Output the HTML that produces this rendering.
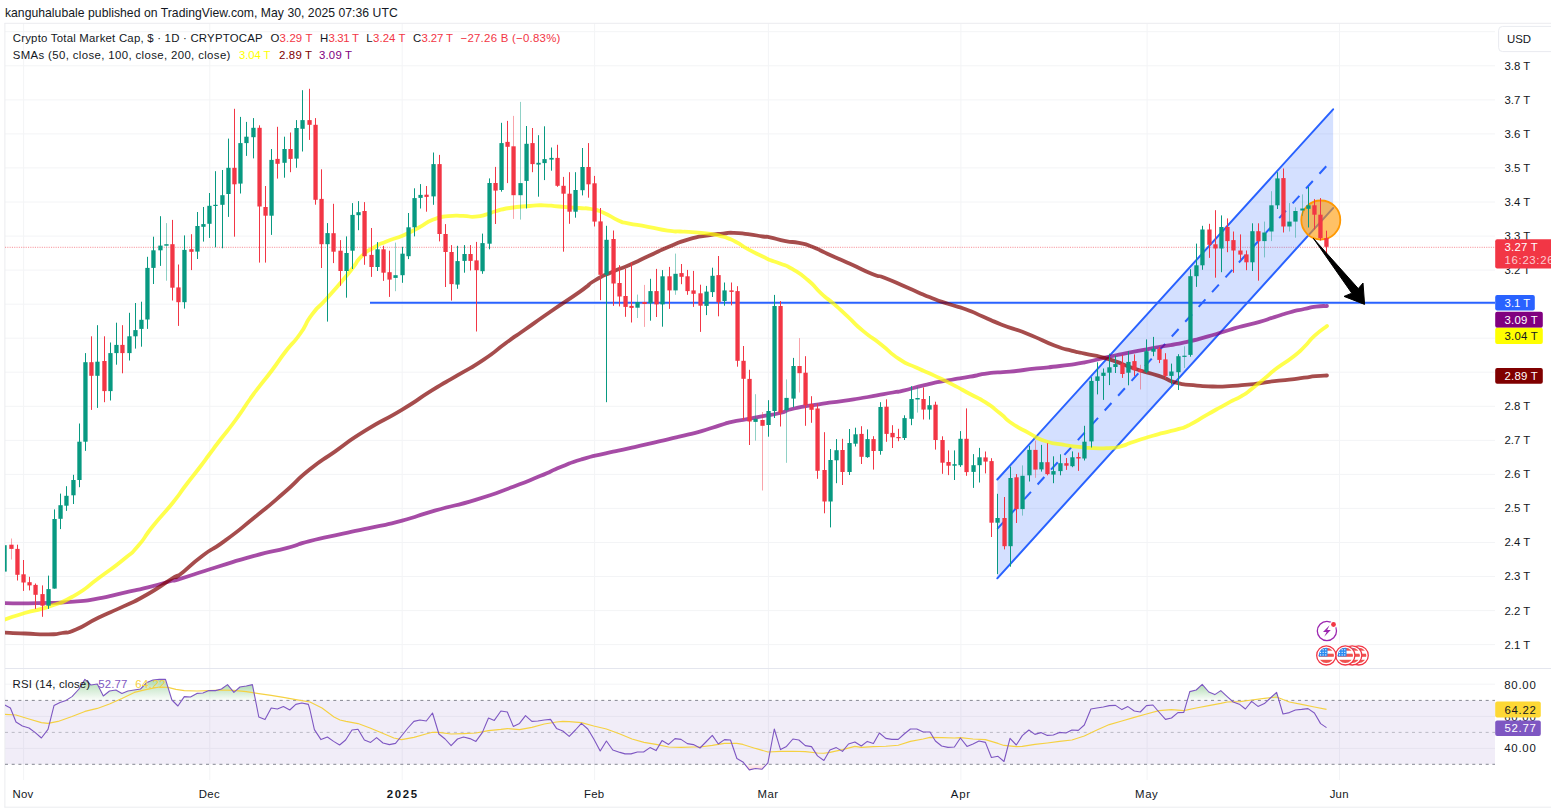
<!DOCTYPE html>
<html lang="en"><head><meta charset="utf-8"><title>Crypto Total Market Cap chart</title>
<style>
html,body{margin:0;padding:0;background:#fff;}
body{width:1551px;height:810px;position:relative;overflow:hidden;font-family:"Liberation Sans",Arial,sans-serif;color:#131722;}
#title{position:absolute;left:5px;top:5px;font-size:12.6px;line-height:15px;white-space:nowrap;letter-spacing:0.12px;}
svg{position:absolute;left:0;top:0;}
svg text{font-family:"Liberation Sans",Arial,sans-serif;}
.lg{position:absolute;left:13px;font-size:12px;line-height:15px;white-space:nowrap;}
.lg span{display:inline-block;}
</style></head><body>
<svg width="1551" height="810" viewBox="0 0 1551 810">
<defs><clipPath id="cp"><rect x="5" y="23.5" width="1490" height="645"/></clipPath>
<clipPath id="cr"><rect x="5" y="668.5" width="1490" height="111.5"/></clipPath>
<linearGradient id="gg" x1="0" y1="0" x2="0" y2="1"><stop offset="0" stop-color="#4caf50" stop-opacity="0.45"/><stop offset="1" stop-color="#4caf50" stop-opacity="0.02"/></linearGradient>
<linearGradient id="rg" x1="0" y1="0" x2="0" y2="1"><stop offset="0" stop-color="#f23645" stop-opacity="0.02"/><stop offset="1" stop-color="#f23645" stop-opacity="0.25"/></linearGradient>
</defs>
<g stroke="#f3f4f6" stroke-width="1" fill="none">
<path d="M5 31.7 H1495"/>
<path d="M5 65.8 H1495"/>
<path d="M5 99.9 H1495"/>
<path d="M5 133.9 H1495"/>
<path d="M5 167.9 H1495"/>
<path d="M5 202 H1495"/>
<path d="M5 236.1 H1495"/>
<path d="M5 270.1 H1495"/>
<path d="M5 304.2 H1495"/>
<path d="M5 338.2 H1495"/>
<path d="M5 372.2 H1495"/>
<path d="M5 406.3 H1495"/>
<path d="M5 440.4 H1495"/>
<path d="M5 474.4 H1495"/>
<path d="M5 508.4 H1495"/>
<path d="M5 542.5 H1495"/>
<path d="M5 576.5 H1495"/>
<path d="M5 610.6 H1495"/>
<path d="M5 644.6 H1495"/>
<path d="M5 684.2 H1495"/>
<path d="M5 716.4 H1495"/>
<path d="M5 748.4 H1495"/>
<path d="M23.6 23.5 V780"/>
<path d="M209.8 23.5 V780"/>
<path d="M402.2 23.5 V780"/>
<path d="M594.6 23.5 V780"/>
<path d="M768.4 23.5 V780"/>
<path d="M960.9 23.5 V780"/>
<path d="M1147.1 23.5 V780"/>
<path d="M1339.5 23.5 V780"/>
</g>
<rect x="5" y="700.4" width="1490" height="63.9" fill="#7e57c2" fill-opacity="0.11"/>
<g stroke="#ebecef" stroke-width="1" fill="none"><path d="M4.5 23.3 H1551"/><path d="M4.9 23 V807.5"/><path d="M4.5 807.2 H1551"/></g>
<path d="M5 668.5 H1551" stroke="#e4e6ee" stroke-width="1"/>
<g clip-path="url(#cp)">
<path d="M5 247.3 H1495" stroke="#f23645" stroke-opacity="0.55" stroke-width="1" stroke-dasharray="1.1 1.2"/>
<path d="M997.3 479.5 L1333.1 109.3 L1333.1 208.1 L997.3 578.3 Z" fill="#2962ff" fill-opacity="0.2"/>
<g stroke="#2962ff" stroke-width="2" fill="none" stroke-linecap="round">
<path d="M997.3 479.5 L1333.1 109.3"/>
<path d="M997.3 578.3 L1333.1 208.1"/>
<path d="M997.3 528.9 L1328 164.3" stroke-dasharray="10.1 9.88" stroke-linecap="butt"/>
</g>
<path d="M370 302.8 H1495" stroke="#2962ff" stroke-width="2"/>
<circle cx="1320.8" cy="220" r="19.5" fill="#ff9800" fill-opacity="0.6" stroke="#ff9800" stroke-width="1.8"/>
<path d="M5 603.2 C15.67 603.2 14 603.7 37 603.2 C60 602.7 53.4 603.33 74 601.7 C94.6 600.07 82.3 601.27 98.8 598.3 C115.3 595.33 107.1 596.43 123.5 592.8 C139.9 589.17 131.57 591.5 148 587.4 C164.43 583.3 162.13 583.33 172.8 580.5 C183.47 577.67 165.27 583.4 180 578.9 C194.73 574.4 192.3 574.67 217 567 C241.7 559.33 230.63 562.3 254.1 555.9 C277.57 549.5 268.9 552.73 287.4 547.8 C305.9 542.87 291.07 545.8 309.6 541.1 C328.13 536.4 322 538.27 343 533.7 C364 529.13 352.87 531.73 372.6 527.4 C392.33 523.07 381.2 526.37 402.2 520.7 C423.2 515.03 410.9 517.43 435.6 510.4 C460.3 503.37 450.4 507.5 476.3 499.6 C502.2 491.7 492.07 494.53 513.3 486.7 C534.53 478.87 524.2 482.63 540 476.1 C555.8 469.57 546.87 472.67 560.7 467.1 C574.53 461.53 566.5 464 581.5 459.4 C596.5 454.8 589.6 457.07 605.7 453.3 C621.8 449.53 613.7 451.67 629.8 448.1 C645.9 444.53 637.87 446.33 654 442.6 C670.13 438.87 662.07 440.83 678.2 436.9 C694.33 432.97 688.57 434.63 702.4 430.8 C716.23 426.97 709.9 428.37 719.7 425.4 C729.5 422.43 722.6 424 731.8 421.9 C741 419.8 736.93 421 747.3 419.1 C757.67 417.2 752 418.23 762.9 416.2 C773.8 414.17 769.6 415.57 780 413 C790.4 410.43 781.17 411.4 794.1 408.5 C807.03 405.6 802.33 406.87 818.8 404.3 C835.27 401.73 827.07 403.23 843.5 400.8 C859.93 398.37 851.67 399.77 868.1 397 C884.53 394.23 881.07 394.6 892.8 392.5 C904.53 390.4 892.37 393.23 903.3 390.7 C914.23 388.17 910.77 388.33 925.6 384.9 C940.43 381.47 933 383.13 947.8 380.4 C962.6 377.67 956.67 379.07 970 376.7 C983.33 374.33 974.47 375 987.8 373.3 C1001.13 371.6 993.7 373.23 1010 371.6 C1026.3 369.97 1020.03 370.27 1036.7 368.4 C1053.37 366.53 1044 368.03 1060 366 C1076 363.97 1068.23 365.4 1084.7 362.3 C1101.17 359.2 1092.93 360.23 1109.4 356.7 C1125.87 353.17 1117.63 354.93 1134.1 351.7 C1150.57 348.47 1142.33 350.03 1158.8 347 C1175.27 343.97 1167.07 346.13 1183.5 342.6 C1199.93 339.07 1192.6 340.7 1208.1 336.4 C1223.6 332.1 1217.77 333.3 1230 329.7 C1242.23 326.1 1234.93 328.2 1244.8 325.6 C1254.67 323 1249.73 324.73 1259.6 321.9 C1269.47 319.07 1264.5 320.23 1274.4 317.1 C1284.3 313.97 1279.4 315.2 1289.3 312.5 C1299.2 309.8 1295.23 310.97 1304.1 309 C1312.97 307.03 1308.27 307.6 1315.9 306.6 C1323.53 305.6 1323.3 306.2 1327 306" fill="none" stroke="#800080" stroke-opacity="0.7" stroke-width="3.8" stroke-linejoin="round" stroke-linecap="round"/>
<path d="M5 632.6 C11.67 632.9 10.53 632.93 25 633.5 C39.47 634.07 36.07 634.47 48.4 634.3 C60.73 634.13 52.8 634.6 62 633 C71.2 631.4 63.73 634.67 76 629.5 C88.27 624.33 82.97 625.2 98.8 617.5 C114.63 609.8 107.1 614.23 123.5 606.4 C139.9 598.57 131.57 603.47 148 594 C164.43 584.53 162.13 584.53 172.8 578 C183.47 571.47 170.2 581.77 180 574.4 C189.8 567.03 187.4 567 202.2 555.9 C217 544.8 207.1 553.8 224.4 541.1 C241.7 528.4 234.33 533.83 254.1 517.8 C273.87 501.77 265.2 509.07 283.7 493 C302.2 476.93 292.3 483.57 309.6 469.6 C326.9 455.63 317.07 464.07 335.6 451.1 C354.13 438.13 343 444.53 365.2 430.7 C387.4 416.87 379.97 423.03 402.2 409.6 C424.43 396.17 413.37 401.87 431.9 390.4 C450.43 378.93 440.53 385.47 457.8 375.2 C475.07 364.93 467.67 370.33 483.7 359.6 C499.73 348.87 492.33 352.87 505.9 343 C519.47 333.13 509.7 340.33 524.4 330 C539.1 319.67 531.47 324.8 550 312 C568.53 299.2 565.07 302.1 580 291.6 C594.93 281.1 584.1 287.07 594.8 280.5 C605.5 273.93 600.57 277.1 612.1 271.9 C623.63 266.7 617.07 270.27 629.4 264.9 C641.73 259.53 635.93 261.87 649.1 255.8 C662.27 249.73 655.73 252.2 668.9 246.7 C682.07 241.2 675.43 243.1 688.6 239.3 C701.77 235.5 696.87 237.2 708.4 235.3 C719.93 233.4 714.97 234.43 723.2 233.6 C731.43 232.77 724.87 232.63 733.1 232.8 C741.33 232.97 738.03 232.87 747.9 234.1 C757.77 235.33 755.33 235.43 762.7 236.5 C770.07 237.57 762.37 235.77 770 237.3 C777.63 238.83 775.97 239.23 785.6 241.1 C795.23 242.97 790.03 241.03 798.9 242.9 C807.77 244.77 802.57 243 812.2 246.7 C821.83 250.4 815.2 248.3 827.8 254 C840.4 259.7 835.2 257.13 850 263.8 C864.8 270.47 860.33 269.2 872.2 274 C884.07 278.8 873.73 273.6 885.6 278.2 C897.47 282.8 893 281.43 907.8 287.8 C922.6 294.17 916.67 291.97 930 297.3 C943.33 302.63 935.93 299.8 947.8 303.8 C959.67 307.8 953.77 305 965.6 309.3 C977.43 313.6 971.47 311.67 983.3 316.7 C995.13 321.73 986.27 318.63 1001.1 324.4 C1015.93 330.17 1010.03 326.97 1027.8 334 C1045.57 341.03 1039.6 339.9 1054.4 345.5 C1069.2 351.1 1062.1 348.07 1072.2 350.8 C1082.3 353.53 1072.3 350.83 1084.7 353.7 C1097.1 356.57 1092.93 354.47 1109.4 359.4 C1125.87 364.33 1117.63 363 1134.1 368.5 C1150.57 374 1144.83 371.2 1158.8 375.9 C1172.77 380.6 1164.5 379.53 1176 382.6 C1187.5 385.67 1180.93 383.8 1193.3 385.1 C1205.67 386.4 1199.93 386.27 1213.1 386.5 C1226.27 386.73 1222.23 386.37 1232.8 385.8 C1243.37 385.23 1235.87 385.63 1244.8 384.8 C1253.73 383.97 1249.73 384.53 1259.6 383.3 C1269.47 382.07 1264.5 382.33 1274.4 381.1 C1284.3 379.87 1279.4 380.73 1289.3 379.6 C1299.2 378.47 1295.23 378.83 1304.1 377.7 C1312.97 376.57 1308.27 376.93 1315.9 376.2 C1323.53 375.47 1323.3 375.73 1327 375.5" fill="none" stroke="#800000" stroke-opacity="0.7" stroke-width="3.8" stroke-linejoin="round" stroke-linecap="round"/>
<path d="M5 619.5 C11.57 617.33 9.9 617.37 24.7 613 C39.5 608.63 32.97 612.13 49.4 606.4 C65.83 600.67 57.53 605.27 74 595.8 C90.47 586.33 82.3 590.1 98.8 578 C115.3 565.9 110.43 570.17 123.5 559.5 C136.57 548.83 128.17 557.17 138 546 C147.83 534.83 141.4 540.43 153 526 C164.6 511.57 161.8 516.37 172.8 502.7 C183.8 489.03 176.93 496.9 186 485 C195.07 473.1 192.13 477.33 200 467 C207.87 456.67 202.77 463.17 209.6 454 C216.43 444.83 211.83 450.83 220.5 439.5 C229.17 428.17 225.63 433.67 235.6 420 C245.57 406.33 242.27 409.93 250.4 398.5 C258.53 387.07 252.6 395.37 260 385.7 C267.4 376.03 263.93 381.07 272.6 369.5 C281.27 357.93 276.87 362.83 286 351 C295.13 339.17 291.23 346.27 300 334 C308.77 321.73 303.23 326.17 312.3 314.2 C321.37 302.23 314.83 312.1 327.2 298.1 C339.57 284.1 337.9 286.17 349.4 272.2 C360.9 258.23 353.5 264.43 361.7 256.2 C369.9 247.97 365.77 252.43 374 247.5 C382.23 242.57 376.5 245.5 386.4 241.4 C396.3 237.3 393 239.73 403.7 235.2 C414.4 230.67 408.63 233 418.5 227.8 C428.37 222.6 423.43 223.47 433.3 219.6 C443.17 215.73 438.2 217.43 448.1 216.2 C458 214.97 453.93 215.73 463 215.9 C472.07 216.07 467.07 217.27 475.3 216.7 C483.53 216.13 481.2 215.93 487.7 214.2 C494.2 212.47 487.5 213.57 494.8 211.5 C502.1 209.43 498.07 209.83 509.6 208 C521.13 206.17 517.87 206.9 529.4 206 C540.93 205.1 534.33 205.13 544.2 205.3 C554.07 205.47 547.47 205.6 559 206.5 C570.53 207.4 568.1 207.17 578.8 208 C589.5 208.83 582.87 207.43 591.1 209 C599.33 210.57 594.43 208.9 603.5 212.7 C612.57 216.5 610.1 216.87 618.3 220.4 C626.5 223.93 618.23 221.17 628.1 223.3 C637.97 225.43 634.7 224.33 647.9 226.8 C661.1 229.27 657 229.13 667.7 230.7 C678.4 232.27 673.03 231.1 680 231.5 C686.97 231.9 679.13 231.2 688.6 231.9 C698.07 232.6 696.87 231.97 708.4 233.6 C719.93 235.23 714.13 234.1 723.2 236.8 C732.27 239.5 727.37 237.6 735.6 241.7 C743.83 245.8 738.87 244.17 747.9 249.1 C756.93 254.03 755.33 252.87 762.7 256.5 C770.07 260.13 764.23 257.67 770 260 C775.77 262.33 772.6 260.53 780 263.5 C787.4 266.47 782.93 263.4 792.2 268.9 C801.47 274.4 798.17 271.87 807.8 280 C817.43 288.13 812.23 285.17 821.1 293.3 C829.97 301.43 825.5 296.6 834.4 304.4 C843.3 312.2 838.17 307.8 847.8 316.7 C857.43 325.6 852.2 321.87 863.3 331.1 C874.4 340.33 869.23 335.13 881.1 344.4 C892.97 353.67 887.03 351.1 898.9 358.9 C910.77 366.7 904.87 362.23 916.7 367.8 C928.53 373.37 922.57 370.07 934.4 375.6 C946.23 381.13 940.33 378.27 952.2 384.4 C964.07 390.53 959 388.07 970 394 C981 399.93 975.2 395.77 985.2 402.2 C995.2 408.63 991.03 406.2 1000 413.3 C1008.97 420.4 1002.3 416.83 1012.1 423.5 C1021.9 430.17 1018.7 427.57 1029.4 433.3 C1040.1 439.03 1033.5 437 1044.2 440.7 C1054.9 444.4 1049.97 442.33 1061.5 444.4 C1073.03 446.47 1068.1 445.67 1078.8 446.9 C1089.5 448.13 1083.73 447.7 1093.6 448.1 C1103.47 448.5 1099.37 448.67 1108.4 448.1 C1117.43 447.53 1112.47 448.43 1120.7 446.4 C1128.93 444.37 1122.4 445.53 1133.1 442 C1143.8 438.47 1141.27 439.2 1152.8 435.8 C1164.33 432.4 1158.97 434.1 1167.7 431.8 C1176.43 429.5 1171.57 431.3 1179 428.9 C1186.43 426.5 1180.3 429.5 1190 424.6 C1199.7 419.7 1195.47 421.37 1208.1 414.2 C1220.73 407.03 1216.63 409.2 1227.9 403.1 C1239.17 397 1233.8 400.77 1241.9 395.9 C1250 391.03 1244.8 394.17 1252.2 388.5 C1259.6 382.83 1255.7 385.8 1264.1 378.9 C1272.5 372 1268.03 374.97 1277.4 367.8 C1286.77 360.63 1283.3 364.33 1292.2 357.4 C1301.1 350.47 1296.7 354.17 1304.1 347 C1311.5 339.83 1306.77 342.9 1314.4 335.9 C1322.03 328.9 1322.8 329.3 1327 326" fill="none" stroke="#ffff00" stroke-opacity="0.7" stroke-width="3.8" stroke-linejoin="round" stroke-linecap="round"/>
<g stroke-width="1" fill="none"><path d="M4.5 545.2 V571.6" stroke="#089981"/><path d="M11.5 538.5 V559.5" stroke="#f23645" stroke-opacity="0.45"/><path d="M17.5 544.7 V580.5" stroke="#f23645"/><path d="M23.5 560 V590.9" stroke="#f23645"/><path d="M29.5 576.8 V590.4" stroke="#f23645"/><path d="M35.5 583.5 V608.9" stroke="#f23645"/><path d="M42.5 585.4 V616.8" stroke="#f23645"/><path d="M48.5 575.6 V608.9" stroke="#089981"/><path d="M54.5 509.4 V588.6" stroke="#089981"/><path d="M60.5 493.6 V529.1" stroke="#089981"/><path d="M66.5 486.2 V510.9" stroke="#089981"/><path d="M73.5 474.8 V504" stroke="#089981"/><path d="M79.5 423.5 V487.2" stroke="#089981"/><path d="M85.5 353.1 V450.9" stroke="#089981"/><path d="M91.5 336.3 V409.9" stroke="#f23645"/><path d="M97.5 325.2 V407.9" stroke="#089981"/><path d="M104.5 336.3 V402.2" stroke="#f23645"/><path d="M110.5 342.5 V400.5" stroke="#089981"/><path d="M116.5 322.7 V364.7" stroke="#089981"/><path d="M122.5 325.2 V373.3" stroke="#f23645"/><path d="M129.5 312.8 V360.5" stroke="#089981"/><path d="M135.5 303 V348.6" stroke="#089981"/><path d="M141.5 301.7 V346.7" stroke="#089981"/><path d="M147.5 256.8 V328.9" stroke="#089981"/><path d="M153.5 236.7 V284" stroke="#089981"/><path d="M160.5 216.2 V265.9" stroke="#089981"/><path d="M166.5 223.1 V280.7" stroke="#089981" stroke-opacity="0.45"/><path d="M172.5 219.9 V300.5" stroke="#f23645"/><path d="M178.5 264.5 V325.9" stroke="#f23645"/><path d="M184.5 235.4 V308.6" stroke="#089981"/><path d="M191.5 234.2 V270.1" stroke="#f23645"/><path d="M197.5 212 V259" stroke="#089981"/><path d="M203.5 207 V241.6" stroke="#089981"/><path d="M209.5 193 V237.9" stroke="#089981"/><path d="M215.5 171.2 V247.3" stroke="#089981"/><path d="M222.5 170 V248.3" stroke="#089981"/><path d="M228.5 138.6 V216.9" stroke="#089981"/><path d="M234.5 108.8 V236.7" stroke="#f23645"/><path d="M240.5 116.9 V193.5" stroke="#089981"/><path d="M246.5 121.9 V155.9" stroke="#089981"/><path d="M253.5 118.1 V158.4" stroke="#089981"/><path d="M259.5 125.3 V262.6" stroke="#f23645"/><path d="M265.5 186 V262.6" stroke="#f23645"/><path d="M271.5 149 V234.9" stroke="#089981"/><path d="M277.5 126.8 V178.6" stroke="#f23645"/><path d="M284.5 136.7 V177.7" stroke="#089981"/><path d="M290.5 132.5 V172.2" stroke="#f23645"/><path d="M296.5 120.1 V167.8" stroke="#089981"/><path d="M302.5 90.2 V151.5" stroke="#089981"/><path d="M309.5 88.8 V139.9" stroke="#f23645"/><path d="M315.5 118.1 V204.7" stroke="#f23645"/><path d="M321.5 169.3 V268" stroke="#f23645"/><path d="M327.5 223.1 V321.6" stroke="#089981"/><path d="M333.5 203.8 V263.1" stroke="#f23645"/><path d="M340.5 240.1 V285.8" stroke="#f23645"/><path d="M346.5 236.4 V297.7" stroke="#089981"/><path d="M352.5 203.1 V269" stroke="#089981"/><path d="M358.5 201.1 V230.2" stroke="#089981"/><path d="M364.5 202.1 V264.8" stroke="#f23645"/><path d="M371.5 228 V276.9" stroke="#f23645"/><path d="M377.5 242.1 V271" stroke="#089981"/><path d="M383.5 245.8 V280.9" stroke="#f23645"/><path d="M389.5 250.7 V296.9" stroke="#f23645"/><path d="M395.5 242.6 V291.2" stroke="#089981" stroke-opacity="0.45"/><path d="M402.5 246.8 V282.8" stroke="#089981"/><path d="M408.5 213 V259.1" stroke="#089981"/><path d="M414.5 188.3 V236.4" stroke="#089981"/><path d="M420.5 184.1 V208.5" stroke="#089981"/><path d="M426.5 186 V211.7" stroke="#f23645"/><path d="M433.5 152.5 V204.8" stroke="#089981"/><path d="M439.5 154.9 V241.4" stroke="#f23645"/><path d="M445.5 224.1 V287" stroke="#f23645"/><path d="M451.5 245.1 V300.6" stroke="#f23645"/><path d="M457.5 245.8 V288.8" stroke="#089981"/><path d="M464.5 245.1 V272.7" stroke="#089981"/><path d="M470.5 245.1 V270.5" stroke="#f23645"/><path d="M476.5 241.9 V331.5" stroke="#f23645"/><path d="M482.5 233.6 V273.8" stroke="#089981"/><path d="M489.5 178.4 V249.3" stroke="#089981"/><path d="M495.5 166.9 V224" stroke="#f23645"/><path d="M501.5 122.8 V191.7" stroke="#089981"/><path d="M507.5 120.9 V183.1" stroke="#f23645"/><path d="M513.5 115.9 V218.9" stroke="#f23645" stroke-opacity="0.45"/><path d="M520.5 101.9 V219.6" stroke="#089981" stroke-opacity="0.45"/><path d="M526.5 126 V208.5" stroke="#089981"/><path d="M532.5 128 V172.2" stroke="#f23645"/><path d="M538.5 135.2 V196.7" stroke="#089981"/><path d="M544.5 126.3 V180.1" stroke="#089981"/><path d="M551.5 147.5 V170.7" stroke="#089981"/><path d="M557.5 144.8 V186.8" stroke="#f23645"/><path d="M563.5 176.9 V251.7" stroke="#f23645"/><path d="M569.5 172.2 V223.8" stroke="#f23645"/><path d="M575.5 172.2 V217.7" stroke="#089981"/><path d="M582.5 148 V195.4" stroke="#089981"/><path d="M588.5 143.1 V197.7" stroke="#f23645"/><path d="M594.5 175.9 V226.5" stroke="#f23645"/><path d="M600.5 208 V300.2" stroke="#f23645"/><path d="M606.5 225.8 V402.2" stroke="#089981"/><path d="M613.5 230.5 V305.9" stroke="#f23645"/><path d="M619.5 265.2 V306.4" stroke="#f23645"/><path d="M625.5 268.9 V316.8" stroke="#f23645"/><path d="M631.5 262.5 V322.5" stroke="#f23645"/><path d="M637.5 294.6 V318" stroke="#089981" stroke-opacity="0.45"/><path d="M644.5 284.9 V326.9" stroke="#f23645" stroke-opacity="0.45"/><path d="M650.5 278.8 V320.7" stroke="#089981"/><path d="M656.5 268.9 V317" stroke="#f23645"/><path d="M662.5 270.1 V326.7" stroke="#089981"/><path d="M669.5 266.9 V308.9" stroke="#f23645"/><path d="M675.5 253.6 V294.8" stroke="#089981" stroke-opacity="0.45"/><path d="M681.5 264 V284.2" stroke="#f23645"/><path d="M687.5 269.9 V294.8" stroke="#f23645"/><path d="M693.5 270.9 V306.9" stroke="#f23645"/><path d="M700.5 284.7 V331.9" stroke="#f23645"/><path d="M706.5 285.9 V315.1" stroke="#089981"/><path d="M712.5 267.7 V297" stroke="#089981"/><path d="M718.5 256 V316.3" stroke="#f23645"/><path d="M724.5 282.5 V305.7" stroke="#089981"/><path d="M731.5 282.5 V305.4" stroke="#f23645"/><path d="M737.5 286.2 V366.7" stroke="#f23645"/><path d="M743.5 346 V420" stroke="#f23645"/><path d="M749.5 369.8 V445" stroke="#f23645"/><path d="M755.5 394.2 V440.6" stroke="#089981" stroke-opacity="0.45"/><path d="M762.5 412 V490.5" stroke="#f23645" stroke-opacity="0.45"/><path d="M768.5 400.2 V436.7" stroke="#089981"/><path d="M774.5 294.9 V418" stroke="#089981"/><path d="M780.5 301.1 V426.5" stroke="#f23645"/><path d="M786.5 379.4 V462.8" stroke="#089981" stroke-opacity="0.45"/><path d="M793.5 357.9 V407.3" stroke="#089981"/><path d="M799.5 338.1 V392.5" stroke="#f23645" stroke-opacity="0.45"/><path d="M805.5 356.2 V425.8" stroke="#f23645"/><path d="M811.5 396.2 V422.8" stroke="#f23645"/><path d="M817.5 403.6 V478.8" stroke="#f23645"/><path d="M824.5 432.2 V513.3" stroke="#f23645"/><path d="M830.5 449 V527.4" stroke="#089981"/><path d="M836.5 439.1 V483.2" stroke="#089981"/><path d="M842.5 438.8 V485" stroke="#f23645"/><path d="M849.5 429 V475" stroke="#089981"/><path d="M855.5 427.7 V446.5" stroke="#089981"/><path d="M861.5 426.2 V464" stroke="#f23645"/><path d="M867.5 429.4 V457.8" stroke="#089981"/><path d="M873.5 436.2 V469.6" stroke="#f23645"/><path d="M880.5 402.2 V454.7" stroke="#089981"/><path d="M886.5 399.3 V441.8" stroke="#f23645"/><path d="M892.5 425.2 V448" stroke="#f23645"/><path d="M898.5 428.8 V441.2" stroke="#f23645"/><path d="M904.5 415.3 V440" stroke="#089981"/><path d="M911.5 386.2 V425.2" stroke="#089981"/><path d="M917.5 387.2 V412.6" stroke="#089981" stroke-opacity="0.45"/><path d="M923.5 387.4 V419.5" stroke="#f23645"/><path d="M929.5 396 V419.5" stroke="#089981"/><path d="M935.5 401.7 V449.6" stroke="#f23645"/><path d="M942.5 436.3 V473.8" stroke="#f23645"/><path d="M948.5 450.4 V475.1" stroke="#f23645"/><path d="M954.5 450.4 V480" stroke="#089981"/><path d="M960.5 431.1 V466.9" stroke="#089981"/><path d="M966.5 408.4 V475.8" stroke="#f23645"/><path d="M973.5 454.1 V487.9" stroke="#089981"/><path d="M979.5 447.9 V482.5" stroke="#089981"/><path d="M985.5 451.5 V473.4" stroke="#f23645"/><path d="M991.5 458.2 V537" stroke="#f23645"/><path d="M997.5 493.8 V574.1" stroke="#089981"/><path d="M1004.5 497 V549.4" stroke="#f23645"/><path d="M1010.5 466.7 V566.7" stroke="#089981"/><path d="M1016.5 474.1 V523" stroke="#f23645"/><path d="M1022.5 465.4 V515.6" stroke="#089981" stroke-opacity="0.45"/><path d="M1029.5 445.7 V481.5" stroke="#089981"/><path d="M1035.5 440.7 V477.8" stroke="#f23645" stroke-opacity="0.45"/><path d="M1041.5 444.9 V471.6" stroke="#089981"/><path d="M1047.5 443.2 V475.3" stroke="#f23645"/><path d="M1053.5 456.3 V483.2" stroke="#089981"/><path d="M1060.5 454.3 V475.3" stroke="#089981"/><path d="M1066.5 458 V469.9" stroke="#f23645"/><path d="M1072.5 451.4 V467.2" stroke="#089981"/><path d="M1078.5 452.6 V470.9" stroke="#f23645"/><path d="M1084.5 425.8 V460.5" stroke="#089981"/><path d="M1091.5 377.2 V447.5" stroke="#089981"/><path d="M1097.5 362.3 V394.4" stroke="#089981"/><path d="M1103.5 368.5 V399.9" stroke="#089981"/><path d="M1109.5 353.7 V385.1" stroke="#089981"/><path d="M1115.5 355.7 V373" stroke="#089981"/><path d="M1122.5 354.9 V377.9" stroke="#f23645"/><path d="M1128.5 351.2 V385.3" stroke="#089981"/><path d="M1134.5 354.4 V375.9" stroke="#f23645"/><path d="M1140.5 364.8 V389.5" stroke="#f23645" stroke-opacity="0.45"/><path d="M1146.5 339.4 V373" stroke="#089981"/><path d="M1153.5 336.9 V356.2" stroke="#089981"/><path d="M1159.5 347 V363.1" stroke="#f23645"/><path d="M1165.5 353.2 V378.4" stroke="#f23645"/><path d="M1171.5 363.6 V384.6" stroke="#089981"/><path d="M1178.5 354.2 V390" stroke="#089981"/><path d="M1184.5 346.3 V368" stroke="#089981" stroke-opacity="0.45"/><path d="M1190.5 269.2 V356.7" stroke="#089981"/><path d="M1196.5 243.6 V286.9" stroke="#089981"/><path d="M1202.5 225.8 V269.8" stroke="#089981"/><path d="M1209.5 223.8 V257.9" stroke="#f23645"/><path d="M1215.5 210.2 V277.7" stroke="#f23645"/><path d="M1221.5 215.4 V272.2" stroke="#089981"/><path d="M1227.5 218.4 V252.2" stroke="#f23645"/><path d="M1233.5 231.5 V272.8" stroke="#f23645"/><path d="M1240.5 234.4 V260.4" stroke="#f23645"/><path d="M1246.5 250.5 V270.2" stroke="#f23645"/><path d="M1252.5 223.3 V271" stroke="#089981"/><path d="M1258.5 223.3 V280.7" stroke="#f23645"/><path d="M1264.5 221.6 V257.4" stroke="#089981" stroke-opacity="0.45"/><path d="M1271.5 191.2 V241.1" stroke="#089981" stroke-opacity="0.45"/><path d="M1277.5 172.2 V209" stroke="#089981"/><path d="M1283.5 168.5 V232.5" stroke="#f23645"/><path d="M1289.5 203.1 V231.5" stroke="#089981" stroke-opacity="0.45"/><path d="M1295.5 207.3 V237.7" stroke="#089981" stroke-opacity="0.45"/><path d="M1302.5 194.4 V215.9" stroke="#089981" stroke-opacity="0.45"/><path d="M1308.5 187 V227.5" stroke="#089981"/><path d="M1314.5 199.1 V229.5" stroke="#f23645"/><path d="M1320.5 198.1 V240.6" stroke="#f23645"/><path d="M1326.5 230.7 V255.9" stroke="#f23645"/></g>
<g><rect x="2.4" y="545.2" width="4.3" height="26.4" fill="#089981"/><rect x="9.3" y="544.7" width="4.3" height="4.2" fill="#f23645"/><rect x="15.3" y="548.9" width="4.3" height="25.9" fill="#f23645"/><rect x="21.4" y="574.3" width="4.3" height="8.2" fill="#f23645"/><rect x="27.4" y="582.2" width="4.3" height="3.2" fill="#f23645"/><rect x="33.4" y="584.9" width="4.3" height="9.9" fill="#f23645"/><rect x="40.4" y="594.1" width="4.3" height="11.6" fill="#f23645"/><rect x="46.4" y="589.1" width="4.3" height="16.6" fill="#089981"/><rect x="52.4" y="519" width="4.3" height="69.6" fill="#089981"/><rect x="58.4" y="505.2" width="4.3" height="13.6" fill="#089981"/><rect x="64.3" y="495.8" width="4.3" height="9.9" fill="#089981"/><rect x="71.3" y="480" width="4.3" height="15.3" fill="#089981"/><rect x="77.3" y="441.7" width="4.3" height="38.3" fill="#089981"/><rect x="83.3" y="362.2" width="4.3" height="79.5" fill="#089981"/><rect x="89.3" y="362.2" width="4.3" height="13.6" fill="#f23645"/><rect x="95.3" y="361.7" width="4.3" height="14.1" fill="#089981"/><rect x="102.3" y="361" width="4.3" height="30.1" fill="#f23645"/><rect x="108.3" y="353.1" width="4.3" height="38" fill="#089981"/><rect x="114.3" y="344.9" width="4.3" height="8.2" fill="#089981"/><rect x="120.3" y="344.9" width="4.3" height="8.2" fill="#f23645"/><rect x="127.3" y="336.3" width="4.3" height="16.8" fill="#089981"/><rect x="133.3" y="330.1" width="4.3" height="6.2" fill="#089981"/><rect x="139.3" y="319.8" width="4.3" height="9.1" fill="#089981"/><rect x="145.3" y="267.9" width="4.3" height="51.6" fill="#089981"/><rect x="151.3" y="250.3" width="4.3" height="17.6" fill="#089981"/><rect x="158.3" y="245.6" width="4.3" height="4.7" fill="#089981"/><rect x="164.3" y="244.2" width="4.3" height="1.5" fill="#089981"/><rect x="170.3" y="244.2" width="4.3" height="43.5" fill="#f23645"/><rect x="176.3" y="287.4" width="4.3" height="14.8" fill="#f23645"/><rect x="182.3" y="249.9" width="4.3" height="52.3" fill="#089981"/><rect x="189.3" y="249.2" width="4.3" height="2.6" fill="#f23645"/><rect x="195.3" y="226" width="4.3" height="25.6" fill="#089981"/><rect x="201.3" y="224.1" width="4.3" height="2.7" fill="#089981"/><rect x="207.3" y="205.8" width="4.3" height="18" fill="#089981"/><rect x="213.3" y="204.8" width="4.3" height="1.2" fill="#089981"/><rect x="220.3" y="195.2" width="4.3" height="9.6" fill="#089981"/><rect x="226.3" y="167.8" width="4.3" height="26.2" fill="#089981"/><rect x="232.3" y="167.8" width="4.3" height="16.5" fill="#f23645"/><rect x="238.3" y="143.1" width="4.3" height="40.5" fill="#089981"/><rect x="244.3" y="136.7" width="4.3" height="6.4" fill="#089981"/><rect x="251.3" y="127.8" width="4.3" height="9.4" fill="#089981"/><rect x="257.4" y="127.8" width="4.3" height="78.7" fill="#f23645"/><rect x="263.4" y="207" width="4.3" height="8.7" fill="#f23645"/><rect x="269.4" y="159.9" width="4.3" height="55.8" fill="#089981"/><rect x="275.4" y="158.9" width="4.3" height="4.9" fill="#f23645"/><rect x="282.4" y="149" width="4.3" height="13.8" fill="#089981"/><rect x="288.4" y="149" width="4.3" height="9.9" fill="#f23645"/><rect x="294.4" y="128" width="4.3" height="30.6" fill="#089981"/><rect x="300.4" y="120.1" width="4.3" height="8.7" fill="#089981"/><rect x="307.4" y="120.1" width="4.3" height="4.7" fill="#f23645"/><rect x="313.4" y="124.8" width="4.3" height="75" fill="#f23645"/><rect x="319.4" y="198.9" width="4.3" height="45.3" fill="#f23645"/><rect x="325.4" y="233.1" width="4.3" height="11.1" fill="#089981"/><rect x="331.4" y="233.2" width="4.3" height="18.5" fill="#f23645"/><rect x="338.4" y="250.7" width="4.3" height="20.3" fill="#f23645"/><rect x="344.4" y="253" width="4.3" height="18" fill="#089981"/><rect x="350.4" y="214.9" width="4.3" height="35.8" fill="#089981"/><rect x="356.4" y="212.2" width="4.3" height="3" fill="#089981"/><rect x="362.4" y="211" width="4.3" height="45.2" fill="#f23645"/><rect x="369.4" y="254.9" width="4.3" height="12.1" fill="#f23645"/><rect x="375.4" y="249.3" width="4.3" height="17.7" fill="#089981"/><rect x="381.4" y="249.3" width="4.3" height="23.4" fill="#f23645"/><rect x="387.4" y="272.2" width="4.3" height="7.4" fill="#f23645"/><rect x="393.4" y="275.2" width="4.3" height="2.7" fill="#089981"/><rect x="400.4" y="253.7" width="4.3" height="21.5" fill="#089981"/><rect x="406.4" y="227.3" width="4.3" height="28.9" fill="#089981"/><rect x="412.4" y="198.1" width="4.3" height="29.2" fill="#089981"/><rect x="418.4" y="194.9" width="4.3" height="3" fill="#089981"/><rect x="424.4" y="194.7" width="4.3" height="2.2" fill="#f23645"/><rect x="431.4" y="164.1" width="4.3" height="32.3" fill="#089981"/><rect x="437.4" y="164.1" width="4.3" height="69.9" fill="#f23645"/><rect x="443.4" y="234" width="4.3" height="18" fill="#f23645"/><rect x="449.4" y="252" width="4.3" height="32.1" fill="#f23645"/><rect x="455.4" y="261.1" width="4.3" height="23.5" fill="#089981"/><rect x="462.4" y="254" width="4.3" height="6.9" fill="#089981"/><rect x="468.4" y="254" width="4.3" height="6.9" fill="#f23645"/><rect x="474.4" y="260.4" width="4.3" height="9.8" fill="#f23645"/><rect x="480.4" y="243.1" width="4.3" height="28.1" fill="#089981"/><rect x="487.4" y="183" width="4.3" height="60.7" fill="#089981"/><rect x="493.4" y="183" width="4.3" height="7.6" fill="#f23645"/><rect x="499.4" y="143.1" width="4.3" height="46.9" fill="#089981"/><rect x="505.4" y="141.9" width="4.3" height="4.9" fill="#f23645"/><rect x="511.4" y="146.3" width="4.3" height="48.9" fill="#f23645"/><rect x="518.4" y="183.1" width="4.3" height="12.1" fill="#089981"/><rect x="524.4" y="143.8" width="4.3" height="37.1" fill="#089981"/><rect x="530.4" y="143.1" width="4.3" height="21" fill="#f23645"/><rect x="536.4" y="162.8" width="4.3" height="1.8" fill="#089981"/><rect x="542.4" y="159.1" width="4.3" height="4" fill="#089981"/><rect x="549.4" y="157.9" width="4.3" height="1.7" fill="#089981"/><rect x="555.4" y="157.9" width="4.3" height="27.9" fill="#f23645"/><rect x="561.4" y="185.8" width="4.3" height="7.9" fill="#f23645"/><rect x="567.4" y="193.7" width="4.3" height="18" fill="#f23645"/><rect x="573.4" y="190" width="4.3" height="21.7" fill="#089981"/><rect x="580.4" y="167" width="4.3" height="23.2" fill="#089981"/><rect x="586.4" y="167" width="4.3" height="17.3" fill="#f23645"/><rect x="592.4" y="183.3" width="4.3" height="38.3" fill="#f23645"/><rect x="598.4" y="221.4" width="4.3" height="53.4" fill="#f23645"/><rect x="604.4" y="239.8" width="4.3" height="35" fill="#089981"/><rect x="611.4" y="239" width="4.3" height="44.5" fill="#f23645"/><rect x="617.4" y="283" width="4.3" height="13.5" fill="#f23645"/><rect x="623.4" y="296" width="4.3" height="10.9" fill="#f23645"/><rect x="629.4" y="305.9" width="4.3" height="2" fill="#f23645"/><rect x="635.4" y="302" width="4.3" height="5.7" fill="#089981"/><rect x="642.4" y="302" width="4.3" height="2" fill="#f23645"/><rect x="648.4" y="291.1" width="4.3" height="12.1" fill="#089981"/><rect x="654.4" y="291.1" width="4.3" height="13.3" fill="#f23645"/><rect x="660.4" y="276.3" width="4.3" height="28.1" fill="#089981"/><rect x="667.4" y="276.3" width="4.3" height="14.1" fill="#f23645"/><rect x="673.4" y="273.8" width="4.3" height="16.6" fill="#089981"/><rect x="679.4" y="273.1" width="4.3" height="3.7" fill="#f23645"/><rect x="685.4" y="276.3" width="4.3" height="14.8" fill="#f23645"/><rect x="691.4" y="290.4" width="4.3" height="3.4" fill="#f23645"/><rect x="698.4" y="293.3" width="4.3" height="12.4" fill="#f23645"/><rect x="704.4" y="291.6" width="4.3" height="14.3" fill="#089981"/><rect x="710.4" y="275.8" width="4.3" height="16.3" fill="#089981"/><rect x="716.4" y="275.1" width="4.3" height="27.1" fill="#f23645"/><rect x="722.4" y="290.4" width="4.3" height="10.6" fill="#089981"/><rect x="729.4" y="290.4" width="4.3" height="1.5" fill="#f23645"/><rect x="735.4" y="291.1" width="4.3" height="69.7" fill="#f23645"/><rect x="741.4" y="360.8" width="4.3" height="18" fill="#f23645"/><rect x="747.4" y="378.9" width="4.3" height="42.6" fill="#f23645"/><rect x="753.4" y="418.8" width="4.3" height="3.1" fill="#089981"/><rect x="760.4" y="420" width="4.3" height="5.8" fill="#f23645"/><rect x="766.4" y="411" width="4.3" height="14" fill="#089981"/><rect x="772.4" y="306" width="4.3" height="105" fill="#089981"/><rect x="778.4" y="306" width="4.3" height="106.7" fill="#f23645"/><rect x="784.4" y="397.9" width="4.3" height="12.3" fill="#089981"/><rect x="791.4" y="366" width="4.3" height="32.6" fill="#089981"/><rect x="797.4" y="366" width="4.3" height="7.2" fill="#f23645"/><rect x="803.4" y="372.7" width="4.3" height="32.6" fill="#f23645"/><rect x="809.4" y="404.1" width="4.3" height="5.7" fill="#f23645"/><rect x="815.4" y="408.5" width="4.3" height="62.3" fill="#f23645"/><rect x="822.4" y="470" width="4.3" height="31.5" fill="#f23645"/><rect x="828.4" y="460" width="4.3" height="41.5" fill="#089981"/><rect x="834.4" y="450.2" width="4.3" height="10.1" fill="#089981"/><rect x="840.4" y="450" width="4.3" height="22" fill="#f23645"/><rect x="847.4" y="443" width="4.3" height="29" fill="#089981"/><rect x="853.4" y="434.3" width="4.3" height="9.4" fill="#089981"/><rect x="859.4" y="433.9" width="4.3" height="22.9" fill="#f23645"/><rect x="865.4" y="439.1" width="4.3" height="18" fill="#089981"/><rect x="871.4" y="439.1" width="4.3" height="11.9" fill="#f23645"/><rect x="878.4" y="407" width="4.3" height="44" fill="#089981"/><rect x="884.4" y="406.7" width="4.3" height="27.2" fill="#f23645"/><rect x="890.4" y="432.9" width="4.3" height="4.4" fill="#f23645"/><rect x="896.4" y="437" width="4.3" height="1.2" fill="#f23645"/><rect x="902.4" y="418.1" width="4.3" height="19.9" fill="#089981"/><rect x="909.4" y="399" width="4.3" height="19.8" fill="#089981"/><rect x="915.4" y="398" width="4.3" height="1.5" fill="#089981"/><rect x="921.4" y="399" width="4.3" height="10.6" fill="#f23645"/><rect x="927.4" y="405.2" width="4.3" height="4.4" fill="#089981"/><rect x="933.4" y="404.7" width="4.3" height="35.3" fill="#f23645"/><rect x="940.4" y="440" width="4.3" height="22.7" fill="#f23645"/><rect x="946.4" y="462" width="4.3" height="3.7" fill="#f23645"/><rect x="952.4" y="464.2" width="4.3" height="1.5" fill="#089981"/><rect x="958.4" y="438.8" width="4.3" height="26.4" fill="#089981"/><rect x="964.4" y="438.8" width="4.3" height="33.3" fill="#f23645"/><rect x="971.4" y="465.2" width="4.3" height="6.7" fill="#089981"/><rect x="977.4" y="457.3" width="4.3" height="7.9" fill="#089981"/><rect x="983.4" y="457.4" width="4.3" height="4.2" fill="#f23645"/><rect x="989.4" y="461.1" width="4.3" height="61.6" fill="#f23645"/><rect x="995.4" y="518" width="4.3" height="4.7" fill="#089981"/><rect x="1002.4" y="518" width="4.3" height="28.2" fill="#f23645"/><rect x="1008.4" y="478" width="4.3" height="68.2" fill="#089981"/><rect x="1014.4" y="477.3" width="4.3" height="31.8" fill="#f23645"/><rect x="1020.4" y="475.8" width="4.3" height="33.3" fill="#089981"/><rect x="1027.3" y="449.9" width="4.3" height="25.4" fill="#089981"/><rect x="1033.3" y="449.9" width="4.3" height="19.7" fill="#f23645"/><rect x="1039.3" y="462.2" width="4.3" height="7.2" fill="#089981"/><rect x="1045.3" y="462.2" width="4.3" height="11.9" fill="#f23645"/><rect x="1051.3" y="471.1" width="4.3" height="3.5" fill="#089981"/><rect x="1058.3" y="463.2" width="4.3" height="7.9" fill="#089981"/><rect x="1064.3" y="463.2" width="4.3" height="2.5" fill="#f23645"/><rect x="1070.3" y="457.3" width="4.3" height="8.9" fill="#089981"/><rect x="1076.3" y="457" width="4.3" height="1.5" fill="#f23645"/><rect x="1082.3" y="441.7" width="4.3" height="16.8" fill="#089981"/><rect x="1089.3" y="380.9" width="4.3" height="60.5" fill="#089981"/><rect x="1095.3" y="376.4" width="4.3" height="4.5" fill="#089981"/><rect x="1101.3" y="372.7" width="4.3" height="3.2" fill="#089981"/><rect x="1107.3" y="367.3" width="4.3" height="5.4" fill="#089981"/><rect x="1113.3" y="364.1" width="4.3" height="2.9" fill="#089981"/><rect x="1120.3" y="363.6" width="4.3" height="10.4" fill="#f23645"/><rect x="1126.3" y="361.9" width="4.3" height="10.8" fill="#089981"/><rect x="1132.3" y="361.1" width="4.3" height="9.1" fill="#f23645"/><rect x="1138.3" y="369.3" width="4.3" height="2.9" fill="#f23645"/><rect x="1144.3" y="351.2" width="4.3" height="20.5" fill="#089981"/><rect x="1151.3" y="348.8" width="4.3" height="2.9" fill="#089981"/><rect x="1157.3" y="348.8" width="4.3" height="11.1" fill="#f23645"/><rect x="1163.3" y="359.4" width="4.3" height="16.5" fill="#f23645"/><rect x="1169.3" y="371.5" width="4.3" height="4.4" fill="#089981"/><rect x="1176.3" y="356.2" width="4.3" height="16" fill="#089981"/><rect x="1182.3" y="355.7" width="4.3" height="1.2" fill="#089981"/><rect x="1188.3" y="276.2" width="4.3" height="78.7" fill="#089981"/><rect x="1194.3" y="265.3" width="4.3" height="10.9" fill="#089981"/><rect x="1200.3" y="229.5" width="4.3" height="35.8" fill="#089981"/><rect x="1207.3" y="229.5" width="4.3" height="15.3" fill="#f23645"/><rect x="1213.3" y="244.3" width="4.3" height="4.2" fill="#f23645"/><rect x="1219.3" y="227" width="4.3" height="21.5" fill="#089981"/><rect x="1225.3" y="227" width="4.3" height="14.1" fill="#f23645"/><rect x="1231.3" y="240.1" width="4.3" height="10.4" fill="#f23645"/><rect x="1238.3" y="250.5" width="4.3" height="4.1" fill="#f23645"/><rect x="1244.3" y="254.4" width="4.3" height="7.9" fill="#f23645"/><rect x="1250.3" y="231.2" width="4.3" height="31.1" fill="#089981"/><rect x="1256.3" y="231.2" width="4.3" height="9.9" fill="#f23645"/><rect x="1262.3" y="232.5" width="4.3" height="8.6" fill="#089981"/><rect x="1269.3" y="205.3" width="4.3" height="26.2" fill="#089981"/><rect x="1275.3" y="178.4" width="4.3" height="26.9" fill="#089981"/><rect x="1281.3" y="178.1" width="4.3" height="48.4" fill="#f23645"/><rect x="1287.3" y="221.6" width="4.3" height="4.9" fill="#089981"/><rect x="1293.3" y="211" width="4.3" height="10.6" fill="#089981"/><rect x="1300.3" y="208.5" width="4.3" height="2" fill="#089981"/><rect x="1306.3" y="205.3" width="4.3" height="3.5" fill="#089981"/><rect x="1312.3" y="205.3" width="4.3" height="9.4" fill="#f23645"/><rect x="1318.3" y="214.7" width="4.3" height="23.4" fill="#f23645"/><rect x="1324.3" y="238.1" width="4.3" height="8.7" fill="#f23645"/></g>
<path d="M1313.4 238.4 L1351.8 293.2 L1344 296.4 L1364.6 304.4 L1363 283 L1358.3 288.6 Z" fill="#000" stroke="#000" stroke-width="1" stroke-linejoin="round"/>
</g>
<g>
<circle cx="1326.9" cy="631" r="9.6" fill="#fff" stroke="#9c27b0" stroke-width="1.3"/>
<path d="M1329.6 625.3 L1323 632 L1326.6 632 L1324.2 636.8 L1330.8 630 L1327.2 630 Z" fill="#9c27b0"/>
<circle cx="1333.5" cy="624.5" r="3.6" fill="#fff"/><circle cx="1333.5" cy="624.5" r="2.4" fill="#f23645"/>
<circle cx="1358.7" cy="655.4" r="9.6" fill="#fff" stroke="#f23645" stroke-width="1.3"/><clipPath id="fc13587"><circle cx="1358.7" cy="655.4" r="7.7"/></clipPath><g clip-path="url(#fc13587)"><rect x="1350.7" y="647.4" width="16" height="16" fill="#fff"/><rect x="1350.7" y="647.5" width="16" height="3.2" fill="#ef5350"/><rect x="1350.7" y="653.7" width="16" height="3.1" fill="#ef5350"/><rect x="1350.7" y="659.8" width="16" height="3.6" fill="#ef5350"/><rect x="1350.7" y="647.4" width="9.2" height="9" fill="#2a8af0"/><rect x="1352.4" y="649.2" width="1.1" height="1.1" fill="#fff"/><rect x="1352.4" y="651.8" width="1.1" height="1.1" fill="#fff"/><rect x="1352.4" y="654.4" width="1.1" height="1.1" fill="#fff"/><rect x="1355" y="649.2" width="1.1" height="1.1" fill="#fff"/><rect x="1355" y="651.8" width="1.1" height="1.1" fill="#fff"/><rect x="1355" y="654.4" width="1.1" height="1.1" fill="#fff"/><rect x="1357.6" y="649.2" width="1.1" height="1.1" fill="#fff"/><rect x="1357.6" y="651.8" width="1.1" height="1.1" fill="#fff"/><rect x="1357.6" y="654.4" width="1.1" height="1.1" fill="#fff"/></g>
<circle cx="1352.2" cy="655.4" r="9.6" fill="#fff" stroke="#f23645" stroke-width="1.3"/><clipPath id="fc13522"><circle cx="1352.2" cy="655.4" r="7.7"/></clipPath><g clip-path="url(#fc13522)"><rect x="1344.2" y="647.4" width="16" height="16" fill="#fff"/><rect x="1344.2" y="647.5" width="16" height="3.2" fill="#ef5350"/><rect x="1344.2" y="653.7" width="16" height="3.1" fill="#ef5350"/><rect x="1344.2" y="659.8" width="16" height="3.6" fill="#ef5350"/><rect x="1344.2" y="647.4" width="9.2" height="9" fill="#2a8af0"/><rect x="1345.9" y="649.2" width="1.1" height="1.1" fill="#fff"/><rect x="1345.9" y="651.8" width="1.1" height="1.1" fill="#fff"/><rect x="1345.9" y="654.4" width="1.1" height="1.1" fill="#fff"/><rect x="1348.5" y="649.2" width="1.1" height="1.1" fill="#fff"/><rect x="1348.5" y="651.8" width="1.1" height="1.1" fill="#fff"/><rect x="1348.5" y="654.4" width="1.1" height="1.1" fill="#fff"/><rect x="1351.1" y="649.2" width="1.1" height="1.1" fill="#fff"/><rect x="1351.1" y="651.8" width="1.1" height="1.1" fill="#fff"/><rect x="1351.1" y="654.4" width="1.1" height="1.1" fill="#fff"/></g>
<circle cx="1345.3" cy="655.4" r="9.6" fill="#fff" stroke="#f23645" stroke-width="1.3"/><clipPath id="fc13453"><circle cx="1345.3" cy="655.4" r="7.7"/></clipPath><g clip-path="url(#fc13453)"><rect x="1337.3" y="647.4" width="16" height="16" fill="#fff"/><rect x="1337.3" y="647.5" width="16" height="3.2" fill="#ef5350"/><rect x="1337.3" y="653.7" width="16" height="3.1" fill="#ef5350"/><rect x="1337.3" y="659.8" width="16" height="3.6" fill="#ef5350"/><rect x="1337.3" y="647.4" width="9.2" height="9" fill="#2a8af0"/><rect x="1339" y="649.2" width="1.1" height="1.1" fill="#fff"/><rect x="1339" y="651.8" width="1.1" height="1.1" fill="#fff"/><rect x="1339" y="654.4" width="1.1" height="1.1" fill="#fff"/><rect x="1341.6" y="649.2" width="1.1" height="1.1" fill="#fff"/><rect x="1341.6" y="651.8" width="1.1" height="1.1" fill="#fff"/><rect x="1341.6" y="654.4" width="1.1" height="1.1" fill="#fff"/><rect x="1344.2" y="649.2" width="1.1" height="1.1" fill="#fff"/><rect x="1344.2" y="651.8" width="1.1" height="1.1" fill="#fff"/><rect x="1344.2" y="654.4" width="1.1" height="1.1" fill="#fff"/></g>
<circle cx="1326.3" cy="655.4" r="9.6" fill="#fff" stroke="#f23645" stroke-width="1.3"/><clipPath id="fc13263"><circle cx="1326.3" cy="655.4" r="7.7"/></clipPath><g clip-path="url(#fc13263)"><rect x="1318.3" y="647.4" width="16" height="16" fill="#fff"/><rect x="1318.3" y="647.5" width="16" height="3.2" fill="#ef5350"/><rect x="1318.3" y="653.7" width="16" height="3.1" fill="#ef5350"/><rect x="1318.3" y="659.8" width="16" height="3.6" fill="#ef5350"/><rect x="1318.3" y="647.4" width="9.2" height="9" fill="#2a8af0"/><rect x="1320" y="649.2" width="1.1" height="1.1" fill="#fff"/><rect x="1320" y="651.8" width="1.1" height="1.1" fill="#fff"/><rect x="1320" y="654.4" width="1.1" height="1.1" fill="#fff"/><rect x="1322.6" y="649.2" width="1.1" height="1.1" fill="#fff"/><rect x="1322.6" y="651.8" width="1.1" height="1.1" fill="#fff"/><rect x="1322.6" y="654.4" width="1.1" height="1.1" fill="#fff"/><rect x="1325.2" y="649.2" width="1.1" height="1.1" fill="#fff"/><rect x="1325.2" y="651.8" width="1.1" height="1.1" fill="#fff"/><rect x="1325.2" y="654.4" width="1.1" height="1.1" fill="#fff"/></g>
</g>
<g clip-path="url(#cr)">
<path d="M65.9 700.4 L66 700.4 L72 696.6 L79 689 L84.9 679.4 L90.9 685 L97.3 684 L103.3 696 L109.5 691 L115.9 690 L121.9 693.4 L127.9 691 L134.3 690 L140.5 689 L146.9 682.4 L152.9 680 L159.3 679.4 L165.5 679.4 L171.9 700 L172.3 700.4 L172.3 700.4 L65.9 700.4 Z" fill="url(#gg)"/>
<path d="M181.7 700.4 L184.3 696.6 L190.5 697 L196.9 693.4 L202.9 693 L208.9 690.6 L215.5 690.6 L221.5 689 L227.5 684.6 L233.9 692.4 L239.9 687 L246.3 686 L252.4 684.6 L255.6 700.4 L255.6 700.4 L181.7 700.4 Z" fill="url(#gg)"/>
<path d="M1187.3 700.4 L1189.8 691.6 L1196.2 690 L1202.2 684.4 L1208.8 692 L1214.8 694.6 L1220.8 690.6 L1227.2 696.6 L1231.5 700.4 L1231.5 700.4 L1187.3 700.4 Z" fill="url(#gg)"/>
<path d="M1267.8 700.4 L1270.4 698 L1276.6 692.4 L1279 700.4 L1279 700.4 L1267.8 700.4 Z" fill="url(#gg)"/>
<path d="M744.8 764.3 L749.3 769.9 L755.5 768.5 L761.9 769.3 L766.6 764.3 L766.6 764.3 L744.8 764.3 Z" fill="url(#rg)"/>
<g stroke="#787b86" stroke-width="0.9" stroke-dasharray="3 3.7" fill="none"><path d="M5 700.4 H1495"/><path d="M5 764.3 H1495"/><path d="M5 732.4 H1495" stroke-opacity="0.5"/></g>
<path d="M4.8 714.4 L16 715 L29 719 L41.4 722.6 L48 723.4 L58 721.4 L72 716.4 L84.9 711.4 L97.3 708.4 L109.5 704 L121.9 698.4 L134.3 692.4 L146.9 689.4 L159.3 687 L167.9 687.4 L175.9 689.4 L184.3 690.6 L196.9 691 L208.9 690.6 L221.5 690 L233.9 690.4 L246.3 691.6 L258.8 693.6 L271.2 695.4 L283.4 697.4 L295.8 699.6 L310 702 L322 708 L334 717 L340 720 L346 721.4 L358 723.6 L370 728 L382 733 L393.9 738 L401.5 739.6 L413.9 737.4 L425.9 734 L432.5 732.2 L438.9 732.4 L451.1 734 L463.5 733.6 L475.9 733 L488.5 730.6 L500.9 729.4 L507.3 728.6 L519.5 729.6 L531.9 727.4 L544.3 724 L556.5 722 L562.8 721.4 L569.2 721.6 L581.4 722.6 L593.8 726 L606.4 729 L620 734 L632 739 L644 742.4 L656 744.4 L668.6 747 L681 747.4 L693.4 747 L700 747 L712.3 745.4 L724.5 743.4 L736.9 743.4 L742.9 744.4 L755.5 748.4 L767.9 752 L780.5 751.4 L792.9 751.2 L805.3 751.6 L817.5 753 L823.9 753.3 L829.9 752.4 L842.5 749.6 L854.9 746.4 L861.3 747.4 L873.4 746.6 L885.8 746.2 L898.2 745.2 L910.4 741.4 L923.2 739 L930 737.4 L942 737.6 L954.4 738 L960.4 737.6 L973 739 L985.4 739.6 L998 743.4 L1004 745.4 L1016.3 746.6 L1022.3 746.4 L1034.9 744.4 L1047.3 743 L1059.5 741.4 L1071.9 740 L1084.3 736 L1096.9 730 L1109.3 724.6 L1121.9 721 L1134.3 717.4 L1146.5 714 L1158.9 710.6 L1171.5 709.6 L1183.8 710.6 L1196.2 708 L1208.8 705.6 L1220.8 703.4 L1227.2 702 L1240 701.6 L1251.6 700 L1264.4 698.4 L1276.6 697 L1283 699.6 L1289.4 702 L1301.6 704.4 L1314.4 707 L1326.5 709.4" fill="none" stroke="#f5d142" stroke-width="1.1" stroke-linejoin="round"/>
<path d="M4.8 705 L10.4 708 L16 722 L22.4 726 L29 728 L35 732.4 L41.4 738 L48 729.4 L54 705.6 L60 702.4 L66 700.4 L72 696.6 L79 689 L84.9 679.4 L90.9 685 L97.3 684 L103.3 696 L109.5 691 L115.9 690 L121.9 693.4 L127.9 691 L134.3 690 L140.5 689 L146.9 682.4 L152.9 680 L159.3 679.4 L165.5 679.4 L171.9 700 L177.9 706 L184.3 696.6 L190.5 697 L196.9 693.4 L202.9 693 L208.9 690.6 L215.5 690.6 L221.5 689 L227.5 684.6 L233.9 692.4 L239.9 687 L246.3 686 L252.4 684.6 L258.8 717 L265 719.6 L271.2 708 L277.4 709 L283.4 706.6 L289.8 710 L295.8 704.4 L301.8 703 L308.4 704.4 L310 710 L314.4 729.6 L321 739.6 L327.4 737 L333.6 741.4 L339.6 745 L345.6 740 L352 730 L358 729.2 L364.4 740 L370.6 742.4 L376.6 737.6 L383 743 L389.4 744.6 L395.5 743.4 L401.5 736 L407.9 728 L413.9 721.4 L419.9 720 L426.3 721 L432.5 713 L438.9 734 L445.1 739 L451.1 745.6 L457.5 739 L463.5 737 L469.9 738.6 L475.9 741.4 L482.3 732.6 L488.5 718 L494.3 720.4 L500.9 711 L507.3 712 L513.3 726.4 L519.5 723.4 L525.5 715.6 L531.9 721.4 L537.9 721 L544.3 720 L550.5 719.4 L556.5 728.4 L562.8 731 L569.2 736.4 L575.4 730 L581.4 723.4 L587.8 729 L593.8 739 L600.2 751 L606.4 741 L612.8 750 L620 752.4 L625 753.9 L631 753.9 L637.4 752 L643.6 752 L650 747.6 L656 750.6 L662 740.6 L668.6 744.4 L675 738.6 L681 739.4 L687.4 743.6 L693.4 744.6 L700 748 L705.9 742 L712.3 735.4 L718.3 744 L724.5 739.6 L730.5 740 L736.9 758.5 L742.9 761.9 L749.3 769.9 L755.5 768.5 L761.9 769.3 L767.9 762.9 L774.3 729 L780.5 749.6 L786.5 746.4 L792.9 739 L798.9 740 L805.3 745.6 L811.5 746.6 L817.5 755.9 L823.9 760.5 L829.9 750 L836.3 747.6 L842.5 751.4 L848.5 744 L854.9 742 L861.3 746 L867.3 741.4 L873.4 743.4 L879.4 733 L885.8 738.4 L891.8 739.4 L898.2 739.4 L904.2 734 L910.4 729 L916.8 729 L923.2 732 L930 732 L935.4 741 L941.6 746 L948 747.4 L954.4 747 L960.4 738 L967 746.4 L973 744 L979 741 L985.4 742.4 L991.4 757.5 L998 756.3 L1004 761.5 L1010 738.4 L1016.3 745 L1022.3 735.6 L1028.9 730 L1034.9 734.4 L1040.9 732.6 L1047.3 735.4 L1053.3 735 L1059.5 732.4 L1065.9 733 L1071.9 730 L1078.3 730.4 L1084.3 725 L1090.9 709 L1096.9 708 L1103.3 707 L1109.3 705.6 L1115.5 705.4 L1121.9 709.6 L1127.9 706.6 L1134.3 711 L1140.3 712 L1146.5 705.6 L1152.9 705 L1158.9 712 L1165.5 719.4 L1171.5 718 L1177.9 712.6 L1183.8 712.4 L1189.8 691.6 L1196.2 690 L1202.2 684.4 L1208.8 692 L1214.8 694.6 L1220.8 690.6 L1227.2 696.6 L1233.2 702 L1240 704.6 L1245.4 709 L1251.6 701.4 L1258 706.4 L1264.4 703.6 L1270.4 698 L1276.6 692.4 L1283 714 L1289.4 712.6 L1295.4 710 L1301.6 709.4 L1308 708.6 L1314.4 713 L1320.6 723.6 L1326.5 727.6" fill="none" stroke="#7e57c2" stroke-width="1.1" stroke-linejoin="round"/>
</g>
<text x="4.9" y="16.5" font-size="12.2" fill="#131722" textLength="392.8" lengthAdjust="spacing">kanguhalubale published on TradingView.com, May 30, 2025 07:36 UTC</text>
<text x="12.7" y="42.2" font-size="11.4" fill="#131722" textLength="250" lengthAdjust="spacing">Crypto Total Market Cap, $ · 1D · CRYPTOCAP</text>
<text x="270.6" y="42.2" font-size="11.4" fill="#131722" textLength="8" lengthAdjust="spacing">O</text>
<text x="279.6" y="42.2" font-size="11.4" fill="#f23645" textLength="32.8" lengthAdjust="spacing">3.29 T</text>
<text x="320" y="42.2" font-size="11.4" fill="#131722" textLength="7" lengthAdjust="spacing">H</text>
<text x="328.4" y="42.2" font-size="11.4" fill="#f23645" textLength="30.5" lengthAdjust="spacing">3.31 T</text>
<text x="366.3" y="42.2" font-size="11.4" fill="#131722" textLength="5.6" lengthAdjust="spacing">L</text>
<text x="373.1" y="42.2" font-size="11.4" fill="#f23645" textLength="32.4" lengthAdjust="spacing">3.24 T</text>
<text x="412.9" y="42.2" font-size="11.4" fill="#131722" textLength="7.6" lengthAdjust="spacing">C</text>
<text x="421.5" y="42.2" font-size="11.4" fill="#f23645" textLength="31.4" lengthAdjust="spacing">3.27 T</text>
<text x="460.5" y="42.2" font-size="11.4" fill="#f23645" textLength="99.9" lengthAdjust="spacing">−27.26 B (−0.83%)</text>
<text x="12.7" y="58.6" font-size="11.4" fill="#131722" textLength="217.7" lengthAdjust="spacing">SMAs (50, close, 100, close, 200, close)</text>
<text x="239" y="58.6" font-size="11.4" fill="#ffff00" textLength="31.5" lengthAdjust="spacing">3.04 T</text>
<text x="279" y="58.6" font-size="11.4" fill="#800000" textLength="33" lengthAdjust="spacing">2.89 T</text>
<text x="319" y="58.6" font-size="11.4" fill="#800080" textLength="33" lengthAdjust="spacing">3.09 T</text>
<text x="12.6" y="688" font-size="11.4" fill="#131722" textLength="77.4" lengthAdjust="spacing">RSI (14, close)</text>
<text x="98.3" y="688" font-size="11.4" fill="#7e57c2" textLength="29" lengthAdjust="spacing">52.77</text>
<text x="135.3" y="688" font-size="11.4" fill="#f5d142" textLength="30.2" lengthAdjust="spacing">64.22</text>
<text x="1504.4" y="69.7" font-size="11.4" fill="#131722" textLength="25.8" lengthAdjust="spacing">3.8 T</text>
<text x="1504.4" y="103.8" font-size="11.4" fill="#131722" textLength="25.8" lengthAdjust="spacing">3.7 T</text>
<text x="1504.4" y="137.8" font-size="11.4" fill="#131722" textLength="25.8" lengthAdjust="spacing">3.6 T</text>
<text x="1504.4" y="171.8" font-size="11.4" fill="#131722" textLength="25.8" lengthAdjust="spacing">3.5 T</text>
<text x="1504.4" y="205.9" font-size="11.4" fill="#131722" textLength="25.8" lengthAdjust="spacing">3.4 T</text>
<text x="1504.4" y="240" font-size="11.4" fill="#131722" textLength="25.8" lengthAdjust="spacing">3.3 T</text>
<text x="1504.4" y="274" font-size="11.4" fill="#131722" textLength="25.8" lengthAdjust="spacing">3.2 T</text>
<text x="1504.4" y="308.1" font-size="11.4" fill="#131722" textLength="25.8" lengthAdjust="spacing">3.1 T</text>
<text x="1504.4" y="342.1" font-size="11.4" fill="#131722" textLength="25.8" lengthAdjust="spacing">3.0 T</text>
<text x="1504.4" y="376.1" font-size="11.4" fill="#131722" textLength="25.8" lengthAdjust="spacing">2.9 T</text>
<text x="1504.4" y="410.2" font-size="11.4" fill="#131722" textLength="25.8" lengthAdjust="spacing">2.8 T</text>
<text x="1504.4" y="444.2" font-size="11.4" fill="#131722" textLength="25.8" lengthAdjust="spacing">2.7 T</text>
<text x="1504.4" y="478.3" font-size="11.4" fill="#131722" textLength="25.8" lengthAdjust="spacing">2.6 T</text>
<text x="1504.4" y="512.3" font-size="11.4" fill="#131722" textLength="25.8" lengthAdjust="spacing">2.5 T</text>
<text x="1504.4" y="546.4" font-size="11.4" fill="#131722" textLength="25.8" lengthAdjust="spacing">2.4 T</text>
<text x="1504.4" y="580.4" font-size="11.4" fill="#131722" textLength="25.8" lengthAdjust="spacing">2.3 T</text>
<text x="1504.4" y="614.5" font-size="11.4" fill="#131722" textLength="25.8" lengthAdjust="spacing">2.2 T</text>
<text x="1504.4" y="648.5" font-size="11.4" fill="#131722" textLength="25.8" lengthAdjust="spacing">2.1 T</text>
<text x="1504.2" y="688.5" font-size="11.4" fill="#131722" textLength="31.6" lengthAdjust="spacing">80.00</text>
<text x="1504.2" y="720.6" font-size="11.4" fill="#131722" textLength="31.6" lengthAdjust="spacing">60.00</text>
<text x="1504.2" y="752.2" font-size="11.4" fill="#131722" textLength="31.6" lengthAdjust="spacing">40.00</text>
<rect x="1498.6" y="26.4" width="60" height="25.2" rx="4" fill="#fff" stroke="#e9ebf0" stroke-width="1"/>
<text x="1507" y="42.6" font-size="11.4" fill="#131722" textLength="23.9" lengthAdjust="spacing">USD</text>
<rect x="1495.2" y="239.3" width="60" height="29.3" rx="2" fill="#f23645"/>
<text x="1504.6" y="250.7" font-size="11.4" fill="#fff" textLength="33" lengthAdjust="spacing">3.27 T</text>
<text x="1504.6" y="264.3" font-size="11.4" fill="#fff" fill-opacity="0.75" textLength="48.9" lengthAdjust="spacing">16:23:26</text>
<rect x="1495.2" y="295.1" width="39.6" height="15.5" rx="2" fill="#2962ff"/>
<text x="1504.6" y="306.9" font-size="11.4" fill="#fff" textLength="25.6" lengthAdjust="spacing">3.1 T</text>
<rect x="1495.2" y="311.7" width="47.6" height="16.1" rx="2" fill="#800080"/>
<text x="1504.6" y="323.7" font-size="11.4" fill="#fff" textLength="33" lengthAdjust="spacing">3.09 T</text>
<rect x="1495.2" y="327.8" width="47.6" height="16.2" rx="2" fill="#ffff00"/>
<text x="1504.6" y="340.1" font-size="11.4" fill="#131722" textLength="33" lengthAdjust="spacing">3.04 T</text>
<rect x="1495.2" y="368.1" width="47.6" height="15.7" rx="2" fill="#800000"/>
<text x="1504.6" y="379.9" font-size="11.4" fill="#fff" textLength="33" lengthAdjust="spacing">2.89 T</text>
<rect x="1495.2" y="701.4" width="45.6" height="16" rx="2" fill="#fdd835"/>
<text x="1504.6" y="713.5" font-size="11.4" fill="#131722" textLength="31.2" lengthAdjust="spacing">64.22</text>
<rect x="1495.2" y="720.4" width="45.6" height="15.6" rx="2" fill="#7e57c2"/>
<text x="1504.6" y="732.1" font-size="11.4" fill="#fff" textLength="31.2" lengthAdjust="spacing">52.77</text>
<text x="12.5" y="798" font-size="11.4" fill="#131722" textLength="20.8" lengthAdjust="spacing">Nov</text>
<text x="198.8" y="798" font-size="11.4" fill="#131722" textLength="20.8" lengthAdjust="spacing">Dec</text>
<text x="584.1" y="798" font-size="11.4" fill="#131722" textLength="20" lengthAdjust="spacing">Feb</text>
<text x="757.6" y="798" font-size="11.4" fill="#131722" textLength="20.4" lengthAdjust="spacing">Mar</text>
<text x="950.8" y="798" font-size="11.4" fill="#131722" textLength="19.2" lengthAdjust="spacing">Apr</text>
<text x="1135" y="798" font-size="11.4" fill="#131722" textLength="22.8" lengthAdjust="spacing">May</text>
<text x="1329.7" y="798" font-size="11.4" fill="#131722" textLength="18.8" lengthAdjust="spacing">Jun</text>
<text x="386.7" y="798" font-size="11.4" fill="#131722" font-weight="bold" textLength="30.3" lengthAdjust="spacing">2025</text>
</svg>
</body></html>
